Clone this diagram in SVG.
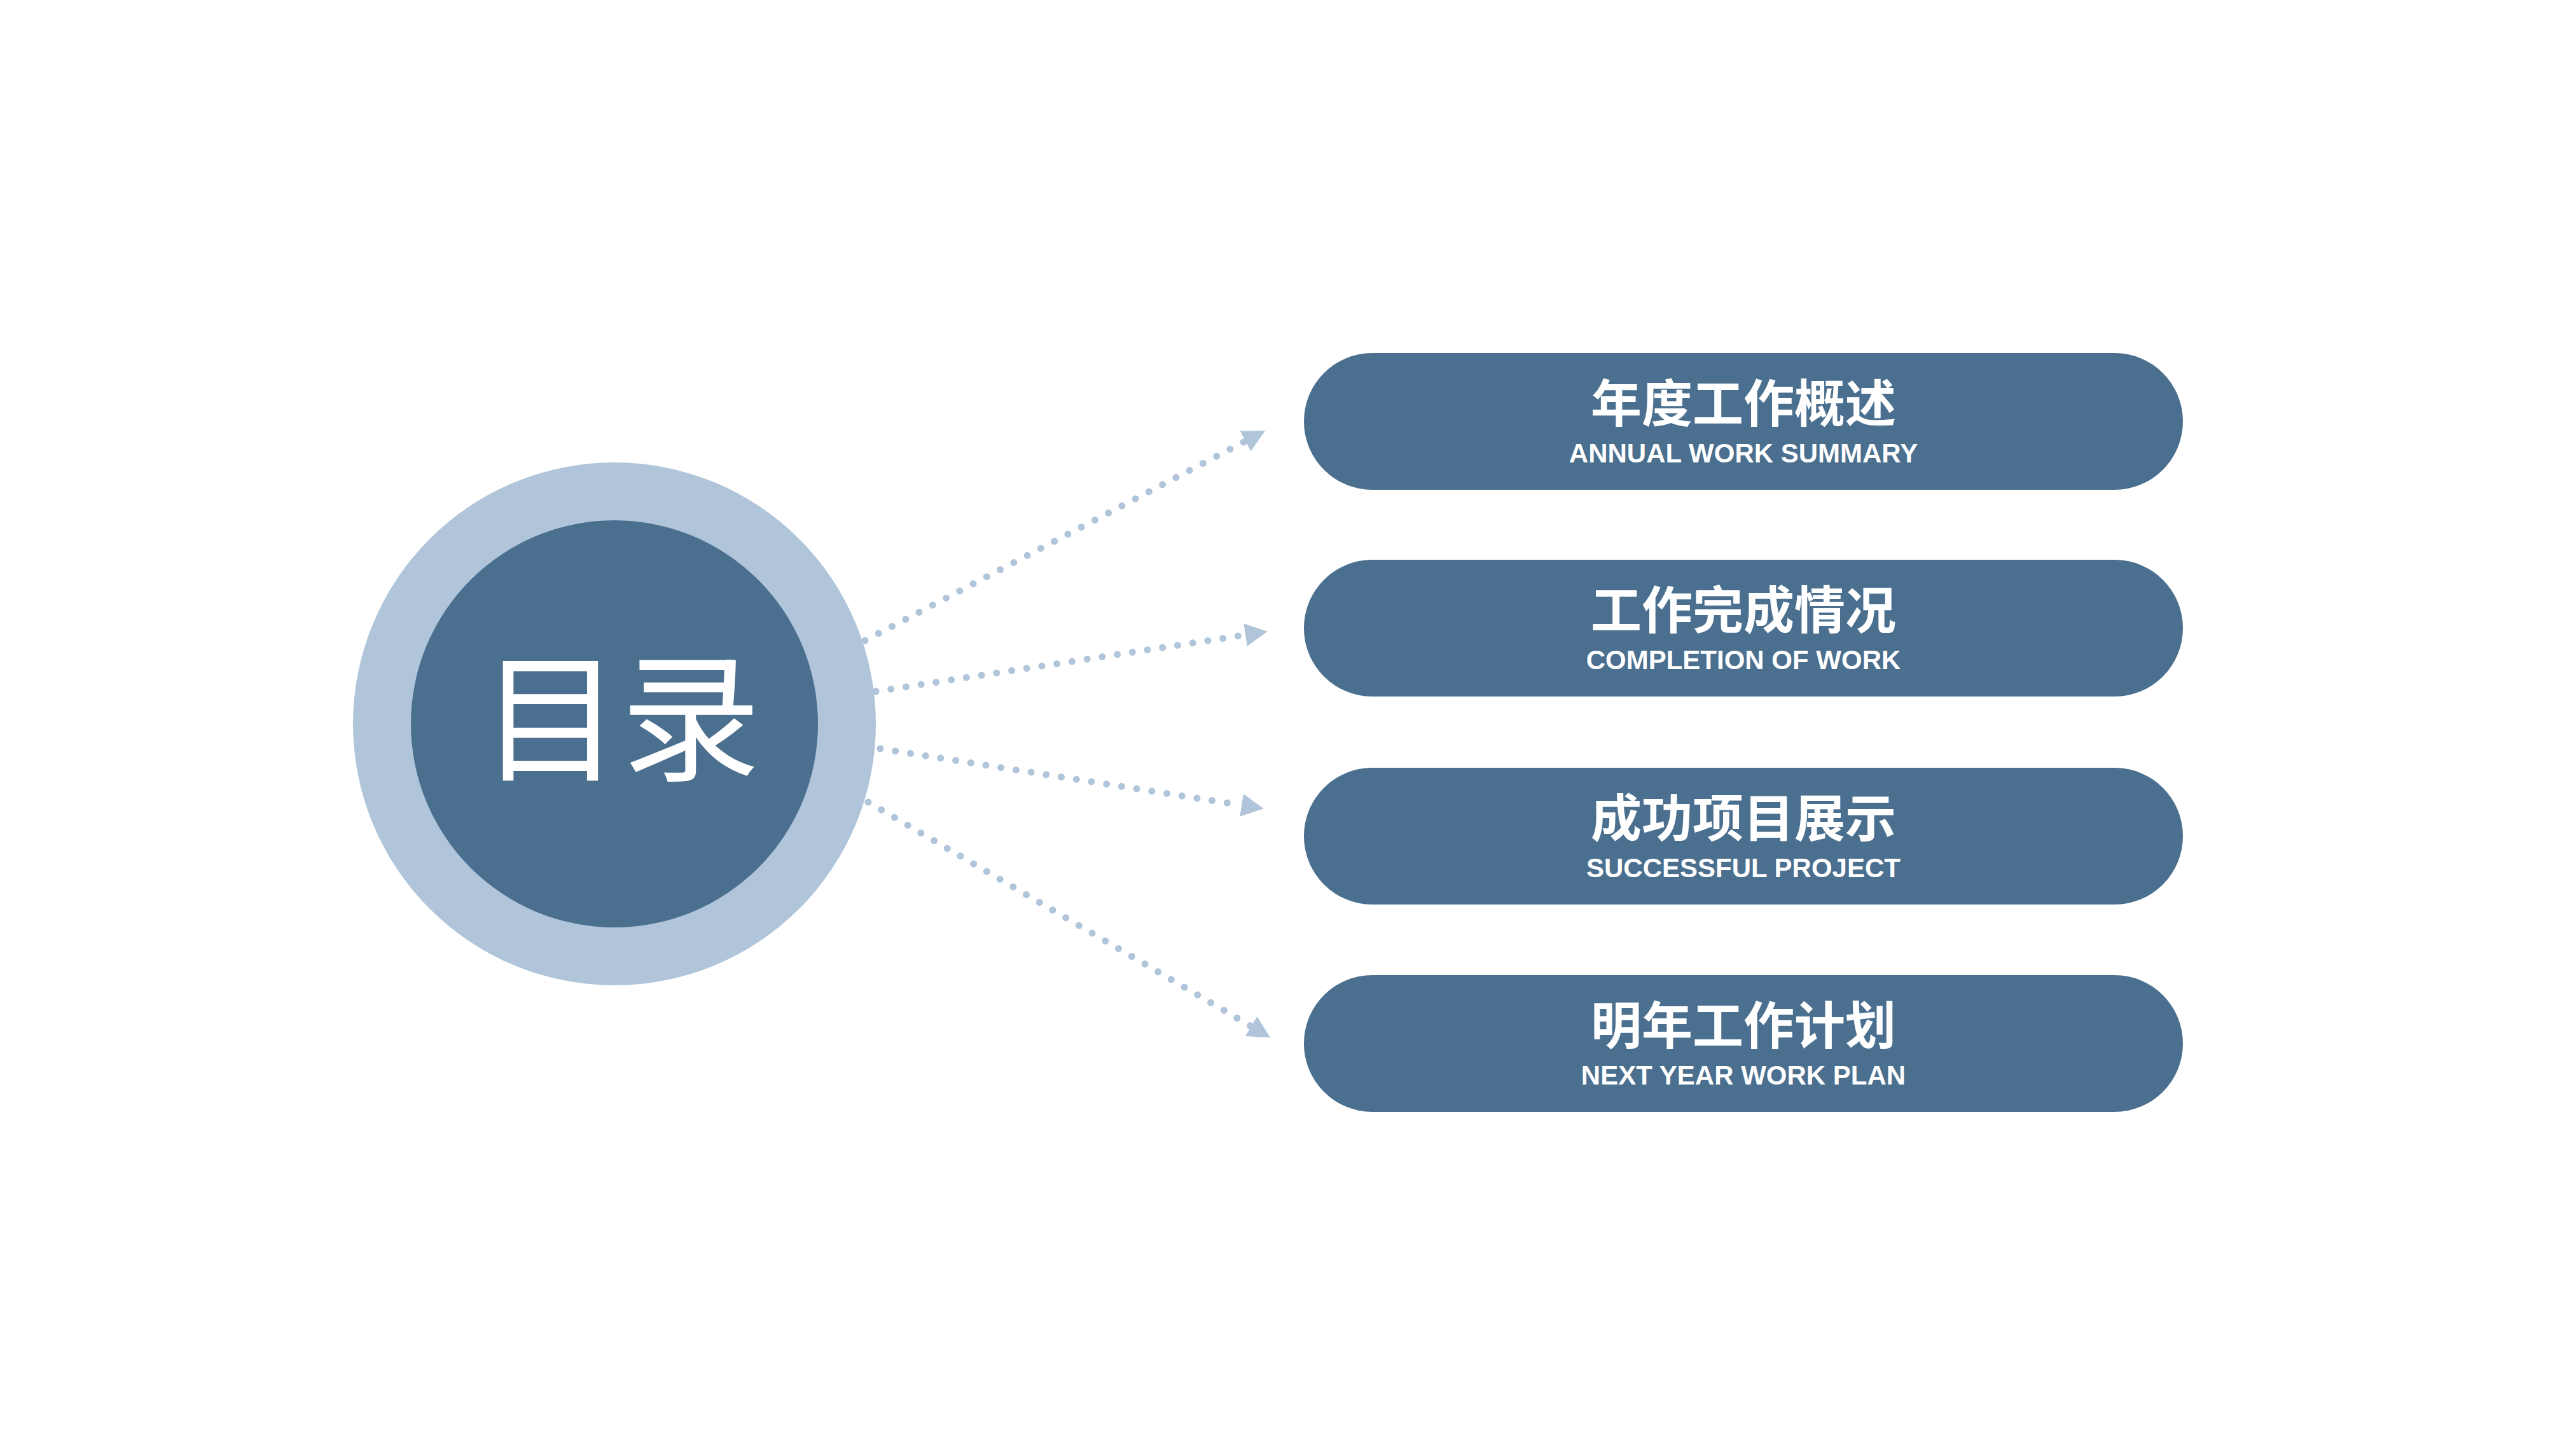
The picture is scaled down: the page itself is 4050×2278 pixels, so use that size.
<svg xmlns="http://www.w3.org/2000/svg" width="4050" height="2278" viewBox="0 0 4050 2278">
  <style>
    .pill { fill: #4a6f8f; }
    .cn { font-family: "Noto Sans CJK SC", "Noto Sans", sans-serif; font-weight: 700; font-size: 80px; fill: #ffffff; text-anchor: middle; }
    .en { font-family: "Liberation Sans", Arial, sans-serif; font-weight: 700; font-size: 42px; fill: #ffffff; text-anchor: middle; }
    .conn { fill: none; stroke: #b0c5d9; stroke-width: 11; stroke-linecap: round; stroke-dasharray: 0 24; }
  </style>
  <defs>
    <marker id="arrow" viewBox="0 0 35 36" refX="1" refY="18" markerWidth="35" markerHeight="36" markerUnits="userSpaceOnUse" orient="auto">
      <path d="M0,0 L35,18 L0,36 z" fill="#b0c5d9"/>
    </marker>
  </defs>
  <rect width="4050" height="2278" fill="#ffffff"/>

  <g id="center">
    <circle cx="966" cy="1138" r="411" fill="#b0c5d9"/>
    <circle cx="966" cy="1138" r="320" fill="#4a6f8f"/>
    <text x="976" y="1211" font-family="Noto Sans CJK SC, Noto Sans, sans-serif" font-size="220" fill="#ffffff" text-anchor="middle">目录</text>
  </g>

  <g id="connectors">
    <line class="conn" x1="1360" y1="1007" x2="1959" y2="693" marker-end="url(#arrow)"/>
    <line class="conn" x1="1377" y1="1087" x2="1959" y2="998" marker-end="url(#arrow)"/>
    <line class="conn" x1="1384" y1="1177" x2="1953" y2="1266" marker-end="url(#arrow)"/>
    <line class="conn" x1="1365" y1="1261" x2="1968" y2="1614" marker-end="url(#arrow)"/>
  </g>

  <g id="item1">
    <rect class="pill" x="2050" y="555" width="1382" height="215" rx="107.5"/>
    <text class="cn" x="2741" y="663">年度工作概述</text>
    <text class="en" x="2741" y="727">ANNUAL WORK SUMMARY</text>
  </g>
  <g id="item2">
    <rect class="pill" x="2050" y="880" width="1382" height="215" rx="107.5"/>
    <text class="cn" x="2741" y="988">工作完成情况</text>
    <text class="en" x="2741" y="1052">COMPLETION OF WORK</text>
  </g>
  <g id="item3">
    <rect class="pill" x="2050" y="1207" width="1382" height="215" rx="107.5"/>
    <text class="cn" x="2741" y="1315">成功项目展示</text>
    <text class="en" x="2741" y="1379">SUCCESSFUL PROJECT</text>
  </g>
  <g id="item4">
    <rect class="pill" x="2050" y="1533" width="1382" height="215" rx="107.5"/>
    <text class="cn" x="2741" y="1641">明年工作计划</text>
    <text class="en" x="2741" y="1705">NEXT YEAR WORK PLAN</text>
  </g>
</svg>
